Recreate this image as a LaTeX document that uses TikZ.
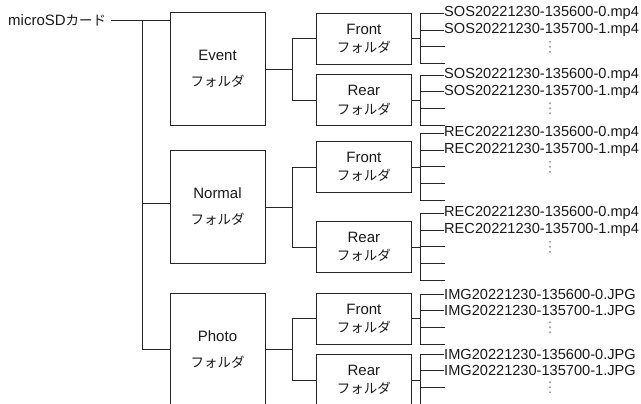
\documentclass[tikz,border=0pt]{standalone}
\usepackage{fontspec}
\setmainfont{Liberation Sans}
\newfontfamily\jpfont{Noto Sans CJK JP}[Scale=0.9]
\usetikzlibrary{positioning}

\begin{document}
\begin{tikzpicture}[x=1pt,y=-1pt]
\tikzstyle{every node}+=[inner sep=0pt, text=black!90]
\tikzstyle{wire}=[draw=black!85, line width=0.9pt]
\tikzstyle{folder}=[wire, minimum width=95pt, minimum height=113pt, align=center, font=\fontsize{15}{26}\selectfont]
\tikzstyle{subfolder}=[wire, minimum width=95.7pt, minimum height=50.7pt, align=center, font=\fontsize{15}{18}\selectfont]
\tikzstyle{file}=[anchor=west, font=\fontsize{14.6}{16}\selectfont]
\tikzstyle{vdot}=[fill=black!40]
\useasboundingbox (0,0) rectangle (641,404);
\clip (0,0) rectangle (641,404);
% root and main folders
\node [anchor=west, font=\fontsize{15}{18}\selectfont] (sd) at (8,20) {microSD{\jpfont カード}};
\node [folder] (ev) at (217.5,69.2) {Event\\{\jpfont フォルダ}};
\node [folder] (nm) at (217.5,207) {Normal\\{\jpfont フォルダ}};
\node [folder] (ph) at (217.5,349.5) {Photo\\{\jpfont フォルダ}};
\coordinate (trunk) at (142,20);
\coordinate (nmin) at ([yshift=4pt]nm.west);
\draw [wire] ([xshift=5pt]sd.east) -- (sd -| ev.west);
\draw [wire] (trunk) |- (ph.west);
\draw [wire] (nmin -| trunk) -- (nmin);
% sub folders
\node [subfolder] (evf) at (363.85,38.7) {Front\\{\jpfont フォルダ}};
\node [subfolder] (evr) at (363.85,100.3) {Rear\\{\jpfont フォルダ}};
\node [subfolder] (nmf) at (363.85,167.2) {Front\\{\jpfont フォルダ}};
\node [subfolder] (nmr) at (363.85,247) {Rear\\{\jpfont フォルダ}};
\node [subfolder] (phf) at (363.85,318.7) {Front\\{\jpfont フォルダ}};
\node [subfolder] (phr) at (363.85,380) {Rear\\{\jpfont フォルダ}};
\draw [wire] (ev.east) -- ++(26.7,0) coordinate (evbus);
\draw [wire] (evf.west) -| (evbus) |- (evr.west);
\draw [wire] (nm.east) -- ++(26.7,0) coordinate (nmbus);
\draw [wire] (nmf.west) -| (nmbus) |- (nmr.west);
\draw [wire] (ph.east) -- ++(26.7,0) coordinate (phbus);
\draw [wire] (phf.west) -| (phbus) |- (phr.west);
% Event / Front
\node [file] (evf1) at (444,13.3) {SOS20221230-135600-0.mp4};
\node [file] (evf2) at (444,30) {SOS20221230-135700-1.mp4};
\coordinate (evf3) at (444.5,46.7);
\coordinate (evf4) at (444.5,63.3);
\draw [wire] (evf.east) -- ++(8.3,0) coordinate (evfb);
\draw [wire] (evf1.west) -| (evfb) |- (evf4);
\draw [wire] (evf2.west) -- (evf2.west -| evfb);
\draw [wire] (evf3) -- (evf3 -| evfb);
\fill [vdot] (550,41.7) circle (1.1) (550,46.7) circle (1.1) (550,51.7) circle (1.1);
% Event / Rear
\node [file] (evr1) at (444,75) {SOS20221230-135600-0.mp4};
\node [file] (evr2) at (444,91.7) {SOS20221230-135700-1.mp4};
\coordinate (evr3) at (444.5,108.3);
\coordinate (evr4) at (444.5,125);
\draw [wire] (evr.east) -- ++(8.3,0) coordinate (evrb);
\draw [wire] (evr1.west) -| (evrb) |- (evr4);
\draw [wire] (evr2.west) -- (evr2.west -| evrb);
\draw [wire] (evr3) -- (evr3 -| evrb);
\fill [vdot] (550,103.3) circle (1.1) (550,108.3) circle (1.1) (550,113.3) circle (1.1);
% Normal / Front
\node [file] (nmf1) at (444,133.3) {REC20221230-135600-0.mp4};
\node [file] (nmf2) at (444,150) {REC20221230-135700-1.mp4};
\coordinate (nmf3) at (444.5,166.7);
\coordinate (nmf4) at (444.5,183.3);
\coordinate (nmf5) at (444.5,200);
\draw [wire] (nmf.east) -- ++(8.3,0) coordinate (nmfb);
\draw [wire] (nmf1.west) -| (nmfb) |- (nmf5);
\draw [wire] (nmf2.west) -- (nmf2.west -| nmfb);
\draw [wire] (nmf3) -- (nmf3 -| nmfb);
\draw [wire] (nmf4) -- (nmf4 -| nmfb);
\fill [vdot] (550,161.7) circle (1.1) (550,166.7) circle (1.1) (550,171.7) circle (1.1);
% Normal / Rear
\node [file] (nmr1) at (444,213.3) {REC20221230-135600-0.mp4};
\node [file] (nmr2) at (444,230) {REC20221230-135700-1.mp4};
\coordinate (nmr3) at (444.5,246.7);
\coordinate (nmr4) at (444.5,263.3);
\coordinate (nmr5) at (444.5,280);
\draw [wire] (nmr.east) -- ++(8.3,0) coordinate (nmrb);
\draw [wire] (nmr1.west) -| (nmrb) |- (nmr5);
\draw [wire] (nmr2.west) -- (nmr2.west -| nmrb);
\draw [wire] (nmr3) -- (nmr3 -| nmrb);
\draw [wire] (nmr4) -- (nmr4 -| nmrb);
\fill [vdot] (550,241.7) circle (1.1) (550,246.7) circle (1.1) (550,251.7) circle (1.1);
% Photo / Front
\node [file] (phf1) at (444,294) {IMG20221230-135600-0.JPG};
\node [file] (phf2) at (444,310.7) {IMG20221230-135700-1.JPG};
\coordinate (phf3) at (444.5,327.3);
\coordinate (phf4) at (444.5,344);
\draw [wire] (phf.east) -- ++(8.3,0) coordinate (phfb);
\draw [wire] (phf1.west) -| (phfb) |- (phf4);
\draw [wire] (phf2.west) -- (phf2.west -| phfb);
\draw [wire] (phf3) -- (phf3 -| phfb);
\fill [vdot] (550,322.3) circle (1.1) (550,327.3) circle (1.1) (550,332.3) circle (1.1);
% Photo / Rear
\node [file] (phr1) at (444,354) {IMG20221230-135600-0.JPG};
\node [file] (phr2) at (444,370.7) {IMG20221230-135700-1.JPG};
\coordinate (phr3) at (444.5,387.3);
\coordinate (phr4) at (444.5,404);
\draw [wire] (phr.east) -- ++(8.3,0) coordinate (phrb);
\draw [wire] (phr1.west) -| (phrb) |- (phr4);
\draw [wire] (phr2.west) -- (phr2.west -| phrb);
\draw [wire] (phr3) -- (phr3 -| phrb);
\fill [vdot] (550,382.3) circle (1.1) (550,387.3) circle (1.1) (550,392.3) circle (1.1);
\end{tikzpicture}
\end{document}
